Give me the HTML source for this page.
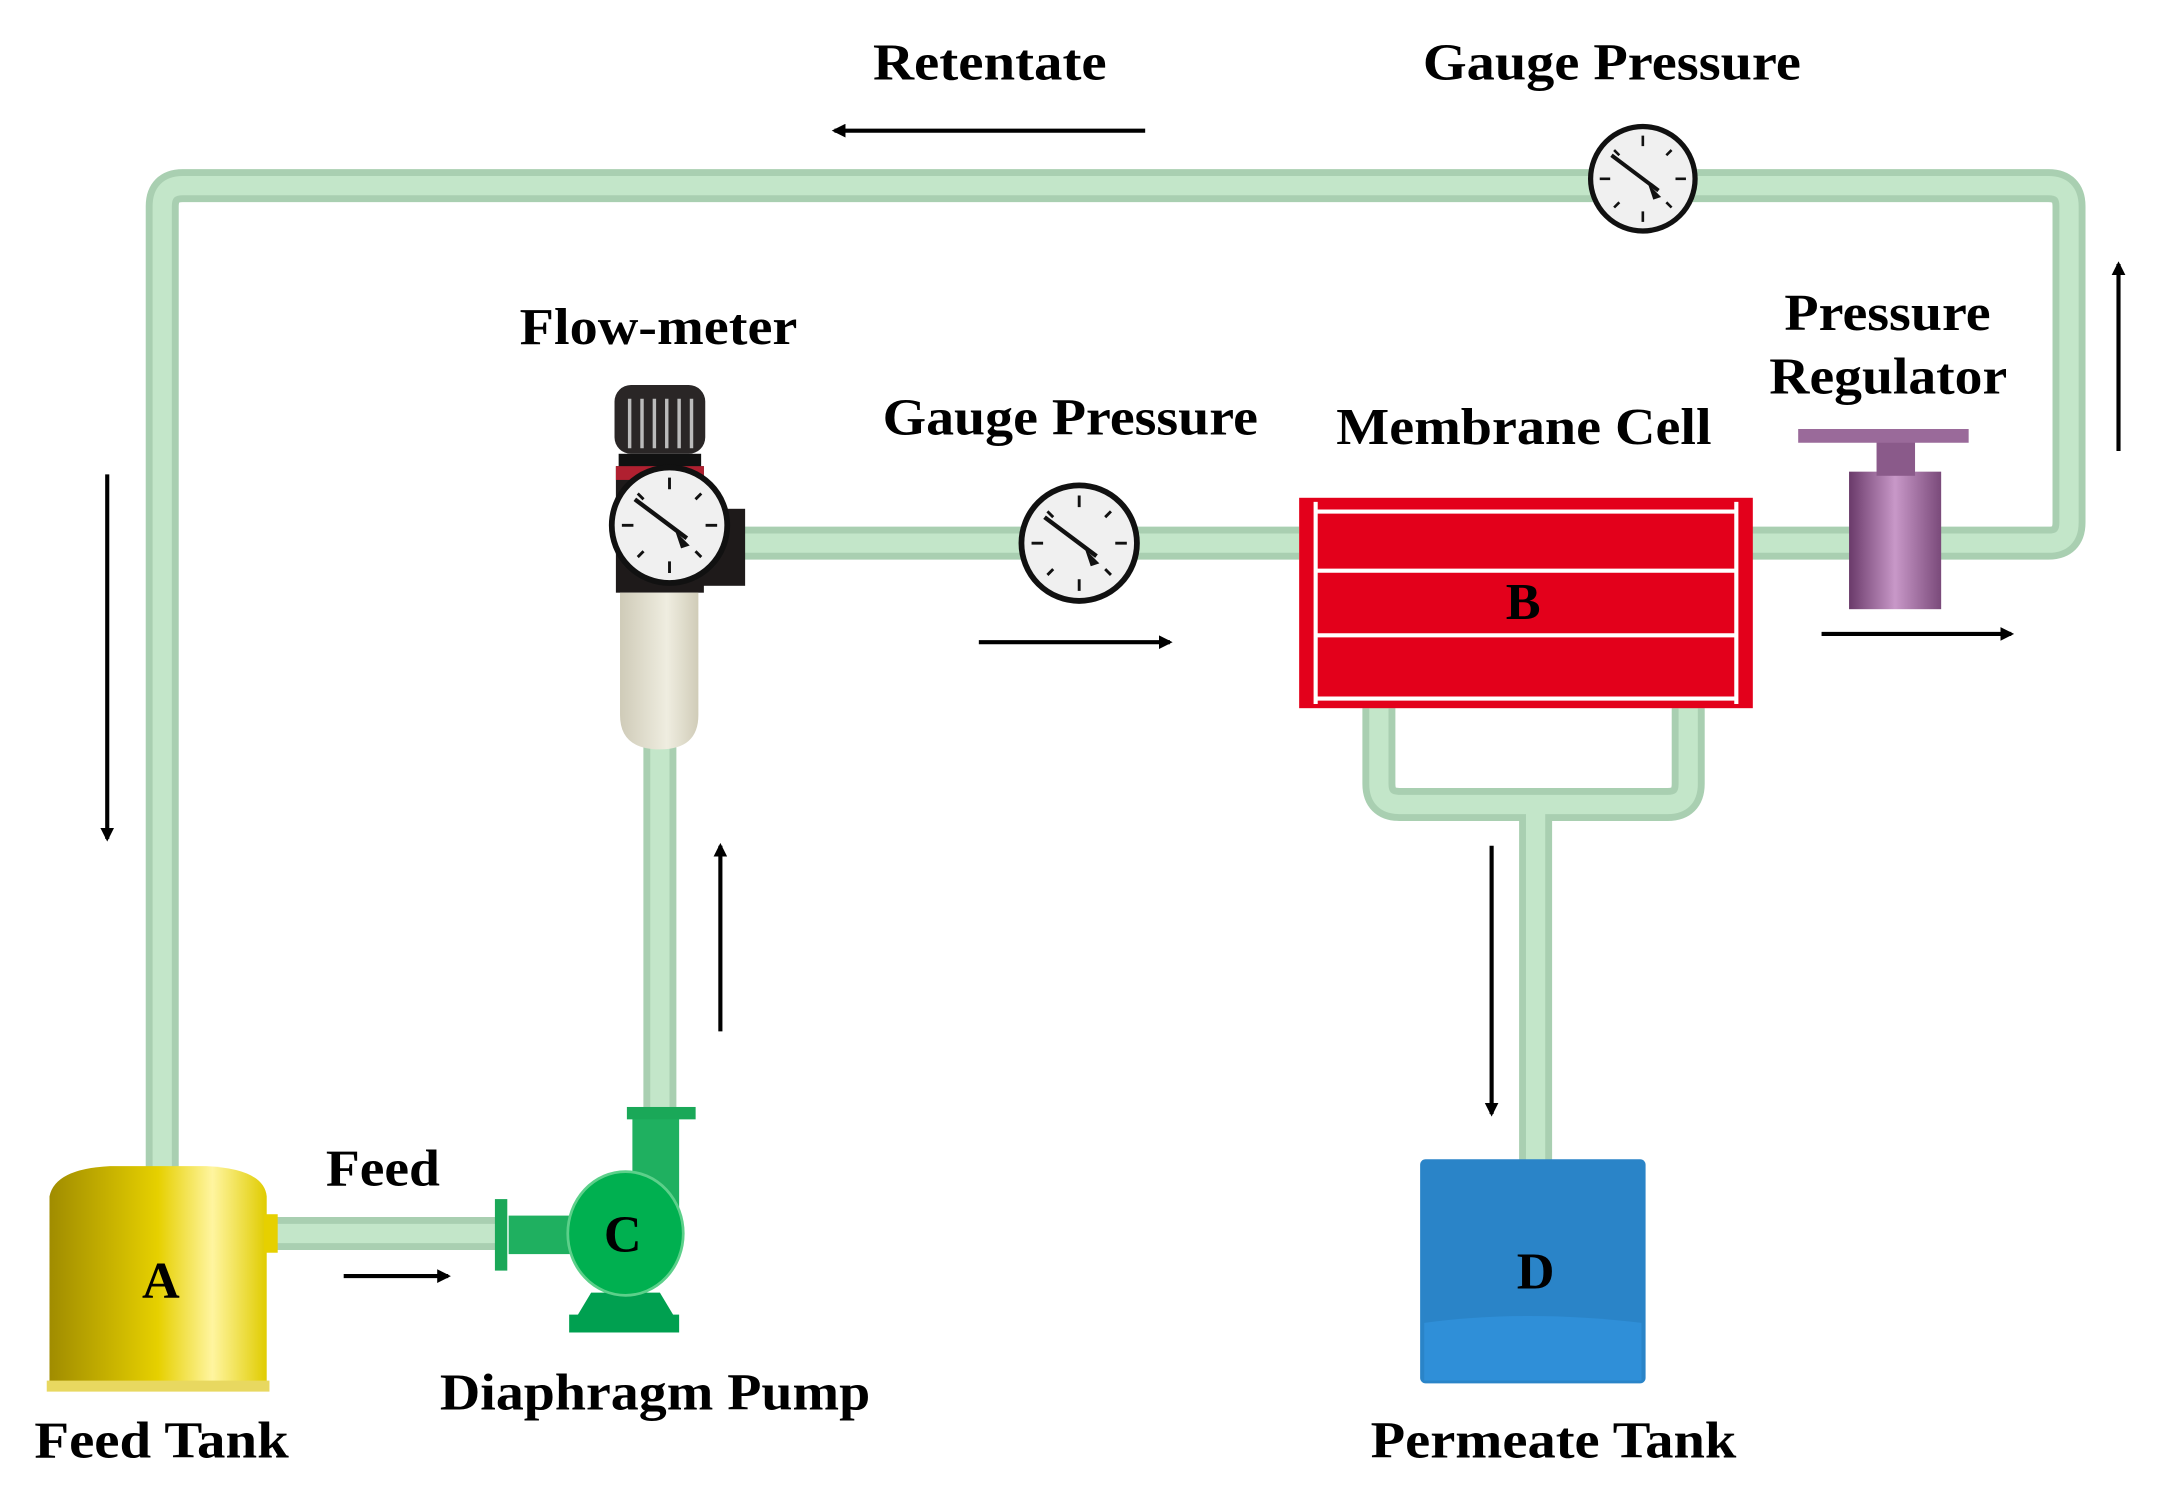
<!DOCTYPE html>
<html><head><meta charset="utf-8"><style>html,body{margin:0;padding:0;background:#fff}svg{display:block}</style></head><body>
<svg width="2157" height="1503" viewBox="0 0 1569 1093" preserveAspectRatio="none" xmlns="http://www.w3.org/2000/svg" font-family="Liberation Serif, serif" font-weight="bold">
<defs>
<marker id="ah" markerWidth="10" markerHeight="10" refX="8" refY="5" orient="auto" markerUnits="userSpaceOnUse"><path d="M0,0 L10,5 L0,10 z" fill="#000"/></marker>
<linearGradient id="yel" x1="0" x2="1"><stop offset="0" stop-color="#a08c00"/><stop offset="0.5" stop-color="#e6d000"/><stop offset="0.75" stop-color="#fff5a0"/><stop offset="1" stop-color="#e0cc00"/></linearGradient>
<linearGradient id="pur" x1="0" x2="1"><stop offset="0" stop-color="#6a3a6a"/><stop offset="0.5" stop-color="#c898c8"/><stop offset="1" stop-color="#7a4a7a"/></linearGradient>
<linearGradient id="cream" x1="0" x2="1"><stop offset="0" stop-color="#cfcbb8"/><stop offset="0.6" stop-color="#efede0"/><stop offset="1" stop-color="#d0ccb8"/></linearGradient>
<g id="gauge">
<circle cx="0" cy="0" r="40" fill="#f0f0f0" stroke="#111" stroke-width="4"/>
<g stroke="#111" stroke-width="2"><path d="M0,-33V-25M0,33V25M-33,0H-25M33,0H25M-22,-22L-18,-18M22,-22L18,-18M-22,22L-18,18M22,22L18,18"/></g>
<path d="M-24,-18 L12,9" stroke="#111" stroke-width="3"/><path d="M4,4 L14,14 L8,16 Z" fill="#111"/>
</g>
</defs>
<g fill="none" stroke-linejoin="round">
<g stroke="#a9cfb1" stroke-width="24">
<path d="M118,850 V150 Q118,135 133,135 H1490 Q1505,135 1505,150 V380 Q1505,395 1490,395 H1270"/>
<path d="M530,395 H945"/><path d="M480,540 V812"/><path d="M195,897 H362"/>
<path d="M1003,515 V570 Q1003,585 1018,585 H1213 Q1228,585 1228,570 V515 M1117,585 V858"/>
</g>
<g stroke="#c3e6c9" stroke-width="14">
<path d="M118,850 V150 Q118,135 133,135 H1490 Q1505,135 1505,150 V380 Q1505,395 1490,395 H1270"/>
<path d="M530,395 H945"/><path d="M480,540 V812"/><path d="M195,897 H362"/>
<path d="M1003,515 V570 Q1003,585 1018,585 H1213 Q1228,585 1228,570 V515 M1117,585 V858"/>
</g>
</g>
<path d="M36,1008 V870 Q40,850 80,848 H150 Q192,850 194,870 V1008 Z" fill="url(#yel)"/>
<rect x="34" y="1004" width="162" height="8" fill="#e8d860"/>
<rect x="192" y="883" width="10" height="28" fill="#e6d000"/>
<rect x="460" y="812" width="34" height="70" fill="#1fb060"/>
<rect x="456" y="805" width="50" height="9" fill="#1aa858"/>
<rect x="370" y="884" width="50" height="28" fill="#1fb060"/>
<rect x="360" y="872" width="9" height="52" fill="#1aa858"/>
<path d="M430,940 H480 L492,960 H418 Z" fill="#00a050"/>
<rect x="414" y="956" width="80" height="13" fill="#00a050"/>
<ellipse cx="455" cy="897" rx="42" ry="45" fill="#00b050" stroke="#5cd08a" stroke-width="2"/>
<rect x="447" y="280" width="66" height="50" rx="12" fill="#2a2626"/>
<g stroke="#bbb" stroke-width="2.5"><path d="M458,290V326M467,290V326M476,290V326M485,290V326M494,290V326M503,290V326"/></g>
<rect x="450" y="330" width="60" height="10" fill="#111"/>
<rect x="448" y="339" width="64" height="92" fill="#1e1a1a"/>
<rect x="448" y="339" width="64" height="10" fill="#b02030"/>
<rect x="510" y="370" width="32" height="56" fill="#1e1a1a"/>
<path d="M451,431 H508 V520 Q508,545 480,545 Q451,545 451,520 Z" fill="url(#cream)"/>
<use href="#gauge" transform="translate(487,382) scale(1.05)"/>
<use href="#gauge" transform="translate(785,395) scale(1.05)"/>
<use href="#gauge" transform="translate(1195,130) scale(0.95)"/>
<rect x="945" y="362" width="330" height="153" fill="#e3001b"/>
<g stroke="#fff" stroke-width="3"><path d="M957,372H1263M957,415H1263M957,462H1263M957,508H1263M957,365V512M1263,365V512"/></g>
<rect x="1345" y="343" width="67" height="100" fill="url(#pur)"/>
<rect x="1365" y="318" width="28" height="28" fill="#8a5a8a"/>
<path d="M1308,312 H1432 V322 H1308 Z" fill="#9a6a9a"/>
<rect x="1033" y="843" width="164" height="163" rx="4" fill="#2a84c8"/>
<path d="M1036,962 Q1110,952 1194,962 V1004 H1036 Z" fill="#2f8fd8"/>
<g stroke="#000" stroke-width="3" marker-end="url(#ah)">
<path d="M833,95 H607"/><path d="M78,345 V610"/><path d="M524,750 V615"/><path d="M712,467 H851"/>
<path d="M1325,461 H1463"/><path d="M1541,328 V192"/><path d="M1085,615 V810"/><path d="M250,928 H326"/>
</g>
<g font-size="38" fill="#000" lengthAdjust="spacingAndGlyphs">
<text x="635" y="58" textLength="170" lengthAdjust="spacingAndGlyphs">Retentate</text>
<text x="1035" y="58" textLength="275" lengthAdjust="spacingAndGlyphs">Gauge Pressure</text>
<text x="378" y="250" textLength="202" lengthAdjust="spacingAndGlyphs">Flow-meter</text>
<text x="642" y="316" textLength="273" lengthAdjust="spacingAndGlyphs">Gauge Pressure</text>
<text x="972" y="323" textLength="273" lengthAdjust="spacingAndGlyphs">Membrane Cell</text>
<text x="1298" y="240" textLength="150" lengthAdjust="spacingAndGlyphs">Pressure</text>
<text x="1287" y="286" textLength="173" lengthAdjust="spacingAndGlyphs">Regulator</text>
<text x="237" y="862" textLength="83" lengthAdjust="spacingAndGlyphs">Feed</text>
<text x="320" y="1025" textLength="313" lengthAdjust="spacingAndGlyphs">Diaphragm Pump</text>
<text x="25" y="1060" textLength="185" lengthAdjust="spacingAndGlyphs">Feed Tank</text>
<text x="997" y="1060" textLength="266" lengthAdjust="spacingAndGlyphs">Permeate Tank</text>
<text x="117" y="944" text-anchor="middle">A</text>
<text x="1108" y="450" text-anchor="middle">B</text>
<text x="453" y="910" text-anchor="middle">C</text>
<text x="1117" y="937" text-anchor="middle">D</text>
</g>
</svg>
</body></html>
